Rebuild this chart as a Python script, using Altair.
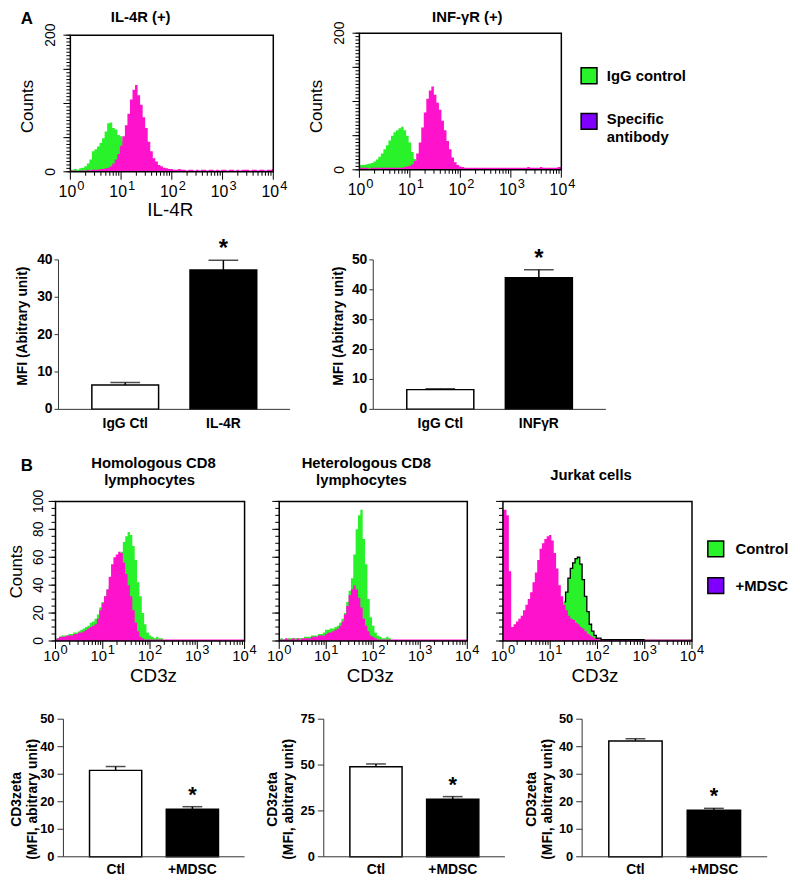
import math
import altair as alt
import pandas as pd

W, H = 790, 873

# ---------------- data: flow-cytometry histograms ----------------
# counts per channel, 20 channels per decade, channel 0 = 10^0 ... channel 80 = 10^4
il4r_igg = [3, 3, 4, 3, 5, 6, 8, 12, 18, 30,
            33, 37, 42, 49, 59, 71, 72, 64, 62, 54,
            52, 45, 35, 24, 14, 8, 5, 3, 2, 2,
            1, 1, 1, 1, 1, 1, 1, 1, 1, 1,
            1, 1, 1, 1, 1, 1, 1, 1, 1, 1,
            1, 1, 1, 1, 1, 1, 1, 1, 1, 1,
            1, 1, 1, 1, 1, 1, 1, 1, 1, 1,
            1, 1, 1, 1, 1, 1, 1, 1, 1, 1,
            1]
il4r_spec = [2, 2, 2, 1, 2, 2, 2, 3, 2, 3,
             3, 3, 4, 4, 5, 6, 8, 12, 18, 26,
             38, 52, 68, 85, 106, 120, 127, 112, 98, 80,
             64, 44, 30, 20, 15, 10, 8, 6, 5, 4,
             4, 3, 3, 4, 3, 3, 2, 3, 3, 2,
             3, 2, 3, 3, 2, 3, 3, 2, 3, 2,
             3, 3, 2, 3, 3, 2, 3, 2, 3, 3,
             3, 2, 3, 3, 2, 3, 3, 2, 3, 3,
             4]
ifngr_igg = [7, 7, 7, 8, 9, 10, 12, 15, 19, 24,
             30, 36, 43, 50, 55, 58, 61, 63, 58, 50,
             40, 26, 16, 10, 6, 4, 3, 2, 2, 2,
             2, 2, 2, 2, 2, 2, 2, 2, 2, 2,
             2, 2, 2, 2, 2, 2, 2, 2, 2, 2,
             2, 2, 2, 2, 2, 2, 2, 2, 2, 2,
             2, 2, 2, 2, 2, 2, 2, 2, 2, 2,
             2, 2, 2, 2, 2, 2, 2, 2, 2, 2,
             2]
ifngr_spec = [3, 3, 3, 3, 2, 3, 3, 3, 3, 3,
              3, 3, 3, 3, 3, 3, 3, 3, 4, 5,
              6, 8, 13, 24, 40, 62, 84, 104, 116, 122,
              110, 98, 88, 72, 58, 42, 30, 18, 11, 7,
              5, 4, 3, 3, 3, 3, 3, 3, 3, 3,
              3, 3, 3, 3, 3, 3, 3, 3, 3, 3,
              3, 3, 3, 3, 3, 3, 3, 4, 3, 3,
              3, 3, 4, 3, 3, 3, 3, 3, 3, 4,
              4]
homo_ctrl = [1, 2, 3, 4, 4, 4, 5, 5, 6, 6,
             7, 8, 9, 10, 11, 13, 14, 16, 19, 24,
             28, 32, 36, 40, 45, 50, 55, 60, 64, 71,
             75, 78, 76, 68, 58, 42, 32, 20, 12, 6,
             4, 3, 2, 3, 2, 2, 0, 0, 0, 0,
             0, 0, 0, 0, 0, 0, 0, 0, 0, 0,
             0, 0, 0, 0, 0, 0, 0, 0, 0, 0,
             0, 0, 0, 0, 0, 0, 0, 0, 0, 0,
             0]
homo_mdsc = [1, 2, 3, 3, 3, 4, 4, 4, 5, 5,
             6, 6, 7, 8, 9, 10, 11, 12, 16, 22,
             27, 32, 37, 46, 55, 60, 62, 64, 63, 56,
             48, 40, 32, 22, 13, 7, 3, 2, 1, 1,
             1, 1, 1, 1, 1, 1, 1, 1, 1, 1,
             1, 1, 1, 1, 1, 1, 1, 1, 1, 1,
             1, 1, 1, 1, 1, 1, 1, 1, 1, 1,
             1, 1, 1, 1, 1, 1, 1, 1, 1, 1,
             1]
hetero_ctrl = [1, 2, 1, 1, 2, 2, 2, 2, 2, 2,
               2, 3, 3, 3, 4, 4, 4, 5, 5, 6,
               8, 8, 9, 9, 10, 11, 13, 16, 20, 28,
               36, 45, 62, 80, 90, 94, 73, 55, 30, 17,
               11, 6, 4, 3, 2, 2, 3, 2, 0, 0,
               0, 0, 0, 0, 0, 0, 0, 0, 0, 0,
               0, 0, 0, 0, 0, 0, 0, 0, 0, 0,
               0, 0, 0, 0, 0, 0, 0, 0, 0, 0,
               0]
hetero_mdsc = [1, 1, 1, 2, 1, 1, 2, 1, 2, 1,
               2, 2, 2, 2, 3, 3, 3, 4, 4, 4,
               5, 6, 6, 7, 8, 9, 11, 14, 19, 25,
               33, 37, 40, 37, 31, 24, 16, 11, 7, 4,
               3, 2, 1, 1, 1, 1, 1, 1, 1, 1,
               1, 1, 1, 1, 1, 1, 1, 1, 1, 1,
               1, 1, 1, 1, 1, 1, 1, 1, 1, 1,
               1, 1, 1, 1, 1, 1, 1, 1, 1, 1,
               1]
jurkat_ctrl = [1, 1, 1, 1, 1, 1, 1, 1, 1, 1,
               1, 1, 1, 1, 1, 1, 1, 1, 1, 1,
               2, 3, 5, 9, 14, 20, 28, 35, 45, 52,
               56, 59, 60, 55, 44, 32, 21, 12, 7, 4,
               2, 2, 1, 1, 1, 1, 1, 1, 1, 1,
               1, 1, 1, 1, 1, 1, 1, 1, 1, 1,
               1, 1, 1, 1, 1, 1, 1, 1, 1, 1,
               1, 1, 1, 1, 1, 1, 1, 1, 1, 1,
               1]
jurkat_mdsc = [94, 94, 90, 50, 10, 12, 14, 16, 18, 22,
               26, 30, 35, 42, 49, 58, 66, 70, 73, 75,
               76, 72, 63, 52, 40, 32, 26, 22, 18, 16,
               15, 13, 12, 10, 9, 7, 5, 4, 3, 2,
               2, 1, 1, 1, 1, 1, 1, 1, 1, 1,
               1, 1, 1, 1, 1, 1, 1, 1, 1, 1,
               1, 1, 1, 1, 1, 1, 1, 1, 1, 1,
               1, 1, 1, 1, 1, 1, 1, 1, 1, 1,
               1]

# ---------------- data: bar charts (mean MFI and SEM) ----------------
il4r_cats = ["IgG Ctl", "IL-4R"]
il4r_mfi = [6.5, 37.3]
il4r_sem = [0.7, 2.6]
ifngr_cats = ["IgG Ctl", "INFγR"]
ifngr_mfi = [6.6, 44.0]
ifngr_sem = [0.3, 2.7]
cd3_cats = ["Ctl", "+MDSC"]
homo_mfi = [31.4, 17.3]
homo_sem = [1.4, 0.9]
hetero_mfi = [49.1, 31.3]
hetero_sem = [1.5, 1.5]
jurkat_mfi = [42.1, 16.9]
jurkat_sem = [0.8, 0.7]
significance = ["", "*"]

decade_exponents = [0, 1, 2, 3, 4]

# ---------------- styling ----------------
GREEN = "#2af22a"
PINK = "#ff12cc"
PURPLE = "#8000ff"
AXC = "#333333"
SANS = "Liberation Sans, Arial, Helvetica, sans-serif"
NARROW = "Liberation Sans Narrow, Arial Narrow, Liberation Sans, sans-serif"

CH_MAX = 80
minor_x_ticks = [20 * (d + math.log10(k)) for d in range(4) for k in range(2, 10)]


def one():
    return alt.Chart(pd.DataFrame({"v": [0]}))


def text(s, x, y, size=15, weight="bold", font=SANS, angle=0, align="center", baseline="middle"):
    return alt.Chart(pd.DataFrame({"t": [s]})).mark_text(
        font=font, fontSize=size, fontWeight=weight, angle=angle, align=align,
        baseline=baseline, color="black"
    ).encode(text="t:N", x=alt.value(x), y=alt.value(y))


def swatch(color, cx, cy, size=16):
    return one().mark_rect(fill=color, stroke="black", strokeWidth=1.5).encode(
        x=alt.value(cx - size / 2), x2=alt.value(cx + size / 2),
        y=alt.value(cy - size / 2), y2=alt.value(cy + size / 2))


def histogram(back, front, box, ymax, minor_step, major_step, label_step, show_ylabels,
              ylab_gap, ylab_size, lab_size, exp_size, lab_dy, exp_dy, lab_dx, exp_dx,
              outline=None):
    x0, x1, ybot, ytop = box
    df = pd.DataFrame({"ch": list(range(len(back))), "back": back, "front": front})
    xs = alt.Scale(domain=[0, CH_MAX], range=[x0, x1], nice=False, zero=False)
    ys = alt.Scale(domain=[0, ymax], range=[ybot, ytop], nice=False, zero=True)
    X = alt.X("ch:Q", scale=xs, axis=None)
    base = alt.Chart(df)
    layers = [
        base.mark_area(interpolate="step", color=GREEN).encode(
            x=X, y=alt.Y("back:Q", scale=ys, axis=None)),
        base.mark_area(interpolate="step", color=PINK).encode(
            x=X, y=alt.Y("front:Q", scale=ys, axis=None)),
    ]
    if outline:
        lo, hi = outline
        layers.append(
            base.transform_filter(f"datum.ch >= {lo} && datum.ch <= {hi}")
            .mark_line(interpolate="step", color="black", strokeWidth=1.3)
            .encode(x=X, y=alt.Y("back:Q", scale=ys, axis=None)))
    # y ticks
    ymin_df = pd.DataFrame({"v": list(range(0, ymax + 1, minor_step))})
    layers.append(alt.Chart(ymin_df).mark_rule(color="black", strokeWidth=1).encode(
        y=alt.Y("v:Q", scale=ys, axis=None), x=alt.value(x0 - 4), x2=alt.value(x0)))
    ymaj_df = pd.DataFrame({"v": list(range(0, ymax + 1, major_step))})
    layers.append(alt.Chart(ymaj_df).mark_rule(color="black", strokeWidth=1).encode(
        y=alt.Y("v:Q", scale=ys, axis=None), x=alt.value(x0 - 7), x2=alt.value(x0)))
    if show_ylabels:
        ylab_df = pd.DataFrame({"v": list(range(0, ymax + 1, label_step))})
        layers.append(alt.Chart(ylab_df).mark_text(
            font=NARROW, fontSize=ylab_size, angle=270, align="center", baseline="alphabetic",
            color="black").encode(y=alt.Y("v:Q", scale=ys, axis=None),
                                  x=alt.value(x0 - ylab_gap), text="v:Q"))
    # x ticks
    xmin_df = pd.DataFrame({"ch": minor_x_ticks})
    layers.append(alt.Chart(xmin_df).mark_rule(color="black", strokeWidth=1).encode(
        x=X, y=alt.value(ybot), y2=alt.value(ybot + 4)))
    dec = pd.DataFrame({"ch": [20 * e for e in decade_exponents],
                        "base": ["10" for _ in decade_exponents],
                        "exp": [str(e) for e in decade_exponents]})
    layers.append(alt.Chart(dec).mark_rule(color="black", strokeWidth=1).encode(
        x=X, y=alt.value(ybot), y2=alt.value(ybot + 8)))
    # frame
    layers.append(one().mark_rect(fillOpacity=0, stroke="black", strokeWidth=1.5).encode(
        x=alt.value(x0), x2=alt.value(x1), y=alt.value(ytop), y2=alt.value(ybot)))
    # decade labels 10^n
    layers.append(alt.Chart(dec).mark_text(font=SANS, fontSize=lab_size, dx=lab_dx,
                                           baseline="middle", color="black").encode(
        x=X, y=alt.value(ybot + lab_dy), text="base:N"))
    layers.append(alt.Chart(dec).mark_text(font=SANS, fontSize=exp_size, dx=exp_dx, align="left",
                                           baseline="middle", color="black").encode(
        x=X, y=alt.value(ybot + exp_dy), text="exp:N"))
    return alt.LayerChart(layer=layers)


def barpanel(cats, vals, sems, box, ymax, yticks, cap, tick_size, lab_pad, xlab_dy,
             star_size, star_dy, ylab_size=14):
    x0, x1, y0, ytop = box
    df = pd.DataFrame({"cat": cats, "mfi": vals,
                       "top": [v + s for v, s in zip(vals, sems)], "sig": significance})
    xs = alt.Scale(domain=cats, range=[x0, x1], paddingInner=0.32, paddingOuter=0.34)
    ys = alt.Scale(domain=[0, ymax], range=[y0, ytop], nice=False, zero=True)
    X = alt.X("cat:N", scale=xs, sort=cats, axis=None)
    base = alt.Chart(df)
    bars = base.mark_bar(stroke="black", strokeWidth=1.5).encode(
        x=X, y=alt.Y("mfi:Q", scale=ys, axis=None),
        fill=alt.condition(f"datum.cat == '{cats[0]}'", alt.value("white"), alt.value("black")))
    stem = base.mark_rule(color="black", strokeWidth=1.5).encode(
        x=X, y=alt.Y("mfi:Q", scale=ys, axis=None), y2="top:Q")
    capm = base.mark_tick(color="black", thickness=1.5, size=cap).encode(
        x=X, y=alt.Y("top:Q", scale=ys, axis=None))
    star = base.mark_text(font=SANS, fontSize=star_size, fontWeight="bold",
                          baseline="alphabetic", dy=star_dy, color="black").encode(
        x=X, y=alt.Y("top:Q", scale=ys, axis=None), text="sig:N")
    xlabels = base.mark_text(font=SANS, fontSize=14, fontWeight="bold", baseline="top",
                             color="black").encode(x=X, y=alt.value(y0 + xlab_dy), text="cat:N")
    xdomain = one().mark_rule(color=AXC, strokeWidth=1).encode(
        x=alt.value(x0), x2=alt.value(x1), y=alt.value(y0))
    ydomain = one().mark_rule(color=AXC, strokeWidth=1).encode(
        x=alt.value(x0), y=alt.value(ytop), y2=alt.value(y0))
    tick_df = pd.DataFrame({"v": yticks})
    yt = alt.Chart(tick_df).mark_rule(color=AXC, strokeWidth=1).encode(
        y=alt.Y("v:Q", scale=ys, axis=None), x=alt.value(x0 - tick_size), x2=alt.value(x0))
    yl = alt.Chart(tick_df).mark_text(font=SANS, fontSize=ylab_size, fontWeight="bold",
                                      align="right", baseline="middle", color="black").encode(
        y=alt.Y("v:Q", scale=ys, axis=None), x=alt.value(x0 - tick_size - lab_pad), text="v:Q")
    return alt.LayerChart(layer=[bars, stem, capm, star, xlabels, xdomain, ydomain, yt, yl])


# ---------------- panels ----------------
histA = dict(ymax=200, minor_step=5, major_step=50, label_step=200, ylab_gap=16, ylab_size=14,
             lab_size=16, exp_size=13, lab_dy=20, exp_dy=14, lab_dx=-3, exp_dx=7)
histB = dict(ymax=100, minor_step=5, major_step=20, label_step=20, ylab_gap=13, ylab_size=14,
             lab_size=15, exp_size=13, lab_dy=15, exp_dy=9, lab_dx=-4, exp_dx=5)
barA = dict(cap=30, tick_size=4, lab_pad=2, xlab_dy=8, star_size=24, star_dy=-4, ylab_size=14)
barB = dict(cap=20, tick_size=6, lab_pad=3, xlab_dy=6, star_size=22, star_dy=-5, ylab_size=13)

panels = [
    histogram(il4r_igg, il4r_spec, (63, 268, 161, 23), show_ylabels=True, **histA),
    histogram(ifngr_igg, ifngr_spec, (355, 559, 159, 21), show_ylabels=True, **histA),
    barpanel(il4r_cats, il4r_mfi, il4r_sem, (51, 285, 401, 250), 40, [0, 10, 20, 30, 40],
             **barA),
    barpanel(ifngr_cats, ifngr_mfi, ifngr_sem, (369, 604, 401, 250), 50,
             [0, 10, 20, 30, 40, 50], **barA),
    histogram(homo_ctrl, homo_mdsc, (48, 239, 635, 494), show_ylabels=True, **histB),
    histogram(hetero_ctrl, hetero_mdsc, (274, 464, 635, 494), show_ylabels=False, **histB),
    histogram(jurkat_ctrl, jurkat_mdsc, (500, 691, 635, 494), show_ylabels=False,
              outline=(26, 60), **histB),
    barpanel(cd3_cats, homo_mfi, homo_sem, (56, 239, 853, 714), 50, [0, 10, 20, 30, 40, 50],
             **barB),
    barpanel(cd3_cats, hetero_mfi, hetero_sem, (319, 502, 853, 714), 75, [0, 25, 50, 75],
             **barB),
    barpanel(cd3_cats, jurkat_mfi, jurkat_sem, (580, 767, 853, 714), 50,
             [0, 10, 20, 30, 40, 50], **barB),
]

annotations = [
    text("A", 19, 7, size=17),
    text("IL-4R (+)", 134, 5),
    text("INF-γR (+)", 464, 5),
    text("Counts", 20, 95, size=17, weight="normal", angle=270),
    text("Counts", 312, 95, size=17, weight="normal", angle=270),
    text("IL-4R", 164, 200, size=19, weight="normal"),
    swatch(GREEN, 587, 64),
    swatch(PURPLE, 587, 110),
    text("IgG control", 605, 64, align="left"),
    text("Specific", 605, 108, align="left"),
    text("antibody", 605, 126, align="left"),
    text("MFI (Abitrary unit)", 15, 317, size=14, angle=270),
    text("MFI (Abitrary unit)", 334, 317, size=14, angle=270),
    text("B", 19, 458, size=17),
    text("Homologous CD8", 147, 455),
    text("lymphocytes", 143, 472),
    text("Heterologous CD8", 362, 455),
    text("lymphocytes", 357, 472),
    text("Jurkat cells", 589, 467),
    text("Counts", 9, 565, size=17, weight="normal", angle=270),
    text("CD3z", 147, 670, size=19, weight="normal"),
    text("CD3z", 366, 670, size=19, weight="normal"),
    text("CD3z", 593, 670, size=19, weight="normal"),
    swatch(GREEN, 715, 542),
    swatch(PURPLE, 715, 579),
    text("Control", 735, 542, align="left"),
    text("+MDSC", 735, 579, align="left"),
    text("CD3zeta", 9, 795, size=14, angle=270),
    text("(MFI, abitrary unit)", 25, 795, size=14, angle=270),
    text("CD3zeta", 268, 795, size=14, angle=270),
    text("(MFI, abitrary unit)", 284, 795, size=14, angle=270),
    text("CD3zeta", 529, 795, size=14, angle=270),
    text("(MFI, abitrary unit)", 546, 795, size=14, angle=270),
]

chart = alt.LayerChart(layer=panels + annotations).resolve_scale(
    x="independent", y="independent"
).properties(
    width=W, height=H, padding=0, autosize=alt.AutoSizeParams(type="none")
).configure_view(stroke=None)

chart.save("out.html", embed_options={"renderer": "svg", "actions": False})
